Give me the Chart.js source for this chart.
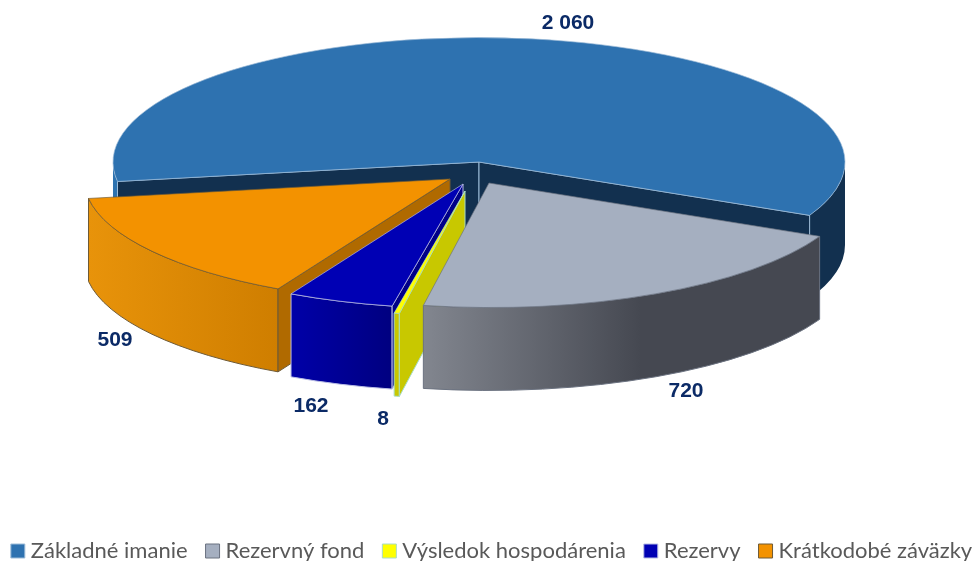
<!DOCTYPE html>
<html>
<head>
<meta charset="utf-8">
<style>html,body{margin:0;padding:0;background:#fff}#wrap{width:977px;height:561px}canvas{display:block}</style>
<script src="https://cdn.jsdelivr.net/npm/chart.js@4"></script>
</head>
<body>
<div id="wrap"><canvas id="c" width="977" height="561"></canvas></div>
<script>
const categories = ['Základné imanie','Rezervný fond','Výsledok hospodárenia','Rezervy','Krátkodobé záväzky'];
const values = [2060,720,8,162,509];
const valueLabels = ['2 060','720','8','162','509'];

const topColors = ['#2e72b0','#a5afc0','#ffff00','#0000b4','#f39200'];
const edgeColors = ['#9dbcd8','#6b7280','#a8dcc8','#b8bce4','#6e5a36'];
const cutColors = ['#12304f','#454851','#c8c800','#000088','#b06a00'];
const wallStops = [
  [[0,'#2e73b0'],[0.007,'#2e73b0'],[0.0075,'#12304f'],[1,'#12304f']],
  [[0,'#82868f'],[0.55,'#454851'],[1,'#454851']],
  [[0,'#c8c800'],[1,'#c8c800']],
  [[0,'#0000a8'],[1,'#000080']],
  [[0,'#e8930a'],[1,'#cf7e00']]
];
const sliceCentres = [[479,162],[489,183],[465,191],[463,184],[450,179]];
const labelCentres = [[568,23],[686,391],[383,419],[311,406],[115,340]];
const drawOrder = [0,4,3,2,1];
const RADIUS = 366, SQUASH = 0.34, DEPTH = 83;

const pie3d = {
  id:'pie3d',
  beforeDatasetsDraw(chart){
    const ctx = chart.ctx;
    const arcs = chart.getDatasetMeta(0).data;
    const TAU = Math.PI*2;
    drawOrder.forEach(i=>{
      const el = arcs[i];
      const [cx,cy] = sliceCentres[i];
      const r = el.outerRadius, ry = r*SQUASH;
      const a0 = el.startAngle, a1 = el.endAngle;
      const px = a=>cx+r*Math.cos(a), py = a=>cy+ry*Math.sin(a);
      ctx.save();
      ctx.lineWidth = 1;
      ctx.strokeStyle = edgeColors[i];
      // outer wall (front half of the rim only)
      [[0,Math.PI],[TAU,TAU+Math.PI]].forEach(([lo,hi])=>{
        const s = Math.max(a0,lo), e = Math.min(a1,hi);
        if(e<=s) return;
        let left = Math.min(px(s),px(e)), right = Math.max(px(s),px(e));
        if(i===0){left=cx-r;right=cx+r;}
        const g = ctx.createLinearGradient(left,0,right,0);
        wallStops[i].forEach(([o,c])=>g.addColorStop(o,c));
        ctx.beginPath();
        ctx.ellipse(cx,cy,r,ry,0,s,e,false);
        ctx.lineTo(px(e),py(e)+DEPTH);
        ctx.ellipse(cx,cy+DEPTH,r,ry,0,e,s,true);
        ctx.closePath();
        ctx.fillStyle = g;
        ctx.fill();
        if(i!==0) ctx.stroke();
      });
      // cut faces
      [[a0,a0-Math.PI/2],[a1,a1+Math.PI/2]].forEach(([a,n])=>{
        if(Math.sin(n)<=0) return;
        ctx.beginPath();
        ctx.moveTo(cx,cy);
        ctx.lineTo(px(a),py(a));
        ctx.lineTo(px(a),py(a)+DEPTH);
        ctx.lineTo(cx,cy+DEPTH);
        ctx.closePath();
        ctx.fillStyle = cutColors[i];
        ctx.fill();
        ctx.stroke();
      });
      ctx.restore();
      // top face through the library's arc element
      ctx.save();
      ctx.translate(cx,cy);
      ctx.scale(1,SQUASH);
      ctx.translate(-el.x,-el.y);
      el.draw(ctx);
      ctx.restore();
    });
    ctx.save();
    ctx.font = 'bold 21px "Liberation Sans", Arial, sans-serif';
    ctx.fillStyle = '#0b2a66';
    ctx.textAlign = 'center';
    ctx.textBaseline = 'middle';
    valueLabels.forEach((t,i)=>ctx.fillText(t,labelCentres[i][0],labelCentres[i][1]));
    ctx.restore();
    return false;
  }
};

new Chart(document.getElementById('c'),{
  type:'pie',
  data:{labels:categories,datasets:[{
    data:values,
    backgroundColor:topColors,
    borderColor:edgeColors,
    borderWidth:1,
    rotation:261,
    radius:RADIUS
  }]},
  options:{
    responsive:false,
    animation:false,
    rotation:261,
    radius:RADIUS,
    layout:{padding:{left:-20,right:-31,top:0,bottom:-11}},
    plugins:{
      tooltip:{enabled:false},
      legend:{
        position:'bottom',
        align:'center',
        labels:{
          usePointStyle:true,
          pointStyle:'rect',
          boxWidth:4,
          boxHeight:14,
          padding:23,
          color:'#595959',
          font:{family:'Lato',size:22}
        }
      }
    }
  },
  plugins:[pie3d]
});
</script>
</body>
</html>
